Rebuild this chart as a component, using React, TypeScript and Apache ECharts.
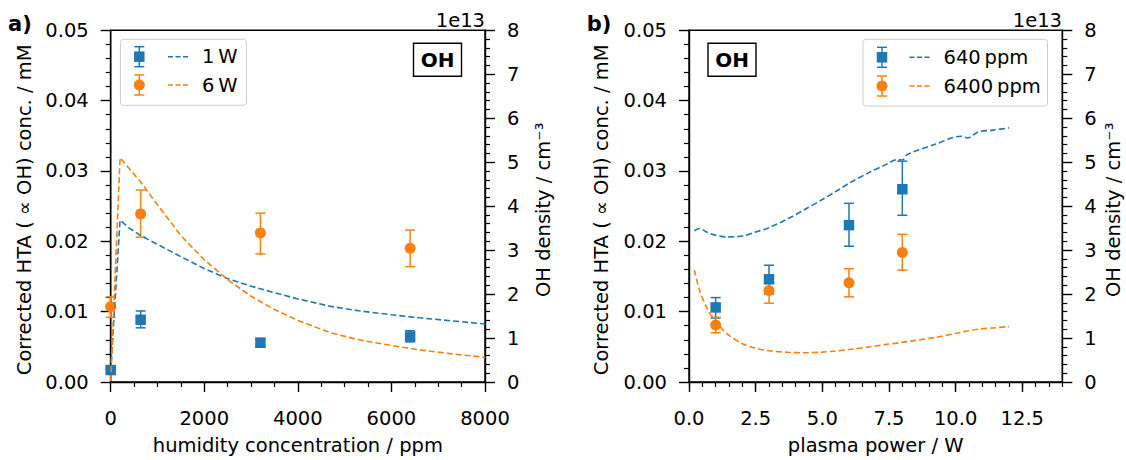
import React, { useEffect, useRef } from "react";
import * as echarts from "echarts";

const FONT = "DejaVu Sans";
const FS = 19.5;
const BLUE = "#1f77b4";
const ORANGE = "#ff7f0e";

// ---- Panel a: humidity series (measured HTA, mM) ----
const humidityPpm = [0, 640, 3200, 6400];
const htaOneW = [0.0017, 0.00885, 0.00558, 0.00647];
const htaOneWLow = [0.0015, 0.0077, 0.005, 0.0057];
const htaOneWHigh = [0.0019, 0.0101, 0.0062, 0.0073];
const htaSixW = [0.0107, 0.0239, 0.0212, 0.019];
const htaSixWLow = [0.0092, 0.0206, 0.0182, 0.0164];
const htaSixWHigh = [0.0121, 0.0273, 0.024, 0.0216];

// ---- Panel a: model OH density (units of 1e13 cm^-3) ----
const modelHumidityPpm = [0, 200, 400, 640, 1000, 1500, 2000, 2500, 3000, 3500, 4000, 4700, 5300, 6000, 6600, 7300, 8000];
const modelOneW = [0.25, 3.68, 3.5, 3.33, 3.13, 2.85, 2.58, 2.35, 2.18, 2.03, 1.89, 1.72, 1.62, 1.53, 1.46, 1.39, 1.32];
const modelSixW = [0.02, 5.1, 4.85, 4.55, 4.03, 3.33, 2.78, 2.33, 1.95, 1.65, 1.4, 1.12, 0.96, 0.83, 0.73, 0.64, 0.56];

// ---- Panel b: plasma power series (measured HTA, mM) ----
const powerW = [1, 3, 6, 8];
const hta640 = [0.0106, 0.0146, 0.0223, 0.0274];
const hta640Low = [0.0091, 0.0125, 0.0193, 0.0237];
const hta640High = [0.012, 0.0166, 0.0254, 0.0314];
const hta6400 = [0.0081, 0.013, 0.0141, 0.0184];
const hta6400Low = [0.007, 0.0112, 0.0121, 0.0159];
const hta6400High = [0.0092, 0.0148, 0.0161, 0.021];

// ---- Panel b: model OH density (units of 1e13 cm^-3) ----
const modelPowerW = [0.2, 0.4, 0.7, 1.0, 1.4, 2.0, 2.5, 3.0, 3.7, 4.3, 5.0, 5.5, 6.0, 6.8, 7.4, 7.8, 8.0, 8.2, 9.2, 10.2, 10.45, 10.85, 11.4, 12.0];
const model640 = [3.44, 3.49, 3.4, 3.34, 3.3, 3.32, 3.41, 3.51, 3.71, 3.91, 4.15, 4.33, 4.52, 4.78, 4.95, 5.06, 5.05, 5.18, 5.4, 5.59, 5.55, 5.69, 5.73, 5.78];
const model6400 = [2.55, 2.08, 1.65, 1.38, 1.11, 0.87, 0.77, 0.71, 0.675, 0.665, 0.68, 0.705, 0.74, 0.8, 0.855, 0.885, 0.905, 0.92, 1.01, 1.13, 1.16, 1.2, 1.23, 1.26];

const panelBTicks = [0, 2.5, 5, 7.5, 10, 12.5];

const zip = (xs: number[], ys: number[]) => xs.map((x, i) => [x, ys[i]]);

const labelStyle = (extra: any = {}) => ({ color: "#000", fontSize: FS, fontFamily: FONT, ...extra });

const axisBase = () => ({
  type: "value" as const,
  axisLine: { show: true, onZero: false, lineStyle: { color: "#000", width: 1.4 } },
  axisTick: { show: true, inside: false, length: 10, lineStyle: { color: "#000", width: 1.4 } },
  minorTick: { show: true, length: 5, lineStyle: { color: "#000", width: 1.2 } },
  splitLine: { show: false },
  minorSplitLine: { show: false },
});

function errorBars(xs: number[], lows: number[], highs: number[], color: string, xi: number, yi: number) {
  return {
    type: "custom",
    xAxisIndex: xi,
    yAxisIndex: yi,
    z: 3,
    encode: { x: 0, y: [1, 2] },
    data: xs.map((x, i) => [x, lows[i], highs[i]]),
    renderItem: (_params: any, api: any) => {
      const x = api.value(0);
      const top = api.coord([x, api.value(2)]);
      const bot = api.coord([x, api.value(1)]);
      const hw = 5;
      const style = { stroke: color, lineWidth: 1.5 };
      return {
        type: "group",
        children: [
          { type: "line", shape: { x1: top[0], y1: top[1], x2: bot[0], y2: bot[1] }, style },
          { type: "line", shape: { x1: top[0] - hw, y1: top[1], x2: top[0] + hw, y2: top[1] }, style },
          { type: "line", shape: { x1: bot[0] - hw, y1: bot[1], x2: bot[0] + hw, y2: bot[1] }, style },
        ],
      };
    },
  };
}

function markers(xs: number[], ys: number[], color: string, symbol: string, xi: number, yi: number) {
  return {
    type: "scatter",
    xAxisIndex: xi,
    yAxisIndex: yi,
    z: 4,
    symbol,
    symbolSize: symbol === "rect" ? 10.5 : 11,
    itemStyle: { color, opacity: 1 },
    data: zip(xs, ys),
  };
}

function modelLine(xs: number[], ys: number[], color: string, xi: number, yi: number, smooth: number | boolean) {
  return {
    type: "line",
    xAxisIndex: xi,
    yAxisIndex: yi,
    z: 5,
    showSymbol: false,
    smooth,
    lineStyle: { color, width: 1.6, type: [6, 3] },
    data: zip(xs, ys),
  };
}

function textEl(x: number, y: number, text: string, opts: any = {}) {
  const align = opts.align || "center";
  const va = opts.va || "middle";
  return {
    type: "text",
    x,
    y,
    rotation: opts.rotation || 0,
    z: 10,
    style: {
      text,
      fontSize: opts.fontSize || FS,
      fontWeight: opts.bold ? "bold" : "normal",
      fontFamily: FONT,
      fill: "#000",
      align,
      verticalAlign: va,
      textAlign: align,
      textVerticalAlign: va,
    },
  };
}

function legendRow(mx: number, my: number, symbol: string, color: string, d1: number, d2: number, tx: number, label: string) {
  const st = { stroke: color, lineWidth: 1.5 };
  return [
    { type: "line", shape: { x1: mx, y1: my - 10, x2: mx, y2: my + 10 }, style: st },
    { type: "line", shape: { x1: mx - 5, y1: my - 10, x2: mx + 5, y2: my - 10 }, style: st },
    { type: "line", shape: { x1: mx - 5, y1: my + 10, x2: mx + 5, y2: my + 10 }, style: st },
    symbol === "rect"
      ? { type: "rect", shape: { x: mx - 5.25, y: my - 5.25, width: 10.5, height: 10.5 }, style: { fill: color } }
      : { type: "circle", shape: { cx: mx, cy: my, r: 5.5 }, style: { fill: color } },
    { type: "line", shape: { x1: d1, y1: my, x2: d2, y2: my }, style: { stroke: color, lineWidth: 1.6, lineDash: [5, 2.5] } },
    textEl(tx, my, label, { align: "left" }),
  ];
}

function ohBox(x: number, y: number) {
  return [
    { type: "rect", z: 9, shape: { x, y, width: 48, height: 33 }, style: { fill: "#fff", stroke: "#000", lineWidth: 1.4 } },
    textEl(x + 24, y + 17, "OH", { bold: true, fontSize: 20 }),
  ];
}

function legendBox(x: number, y: number, w: number, h: number) {
  return { type: "rect", z: 8, shape: { x, y, width: w, height: h, r: 3 }, style: { fill: "rgba(255,255,255,0.8)", stroke: "#cccccc", lineWidth: 1 } };
}

export default function App() {
  const ref = useRef<HTMLDivElement>(null);

  useEffect(() => {
    if (!ref.current) return;
    const chart = echarts.init(ref.current, undefined, { renderer: "svg" });
    const GA = { left: 110.7, top: 30.3, width: 374.3, height: 359 };
    const GB = { left: 689, top: 30.3, width: 373.3, height: 359 };
    const midY = GA.top + GA.height / 2;

    const leftY = (gridIndex: number) => ({
      ...axisBase(),
      gridIndex,
      position: "left",
      min: 0,
      max: 0.05,
      interval: 0.01,
      minorTick: { show: true, splitNumber: 5, length: 5, lineStyle: { color: "#000", width: 1.2 } },
      axisLabel: labelStyle({ margin: 22, formatter: (v: number) => v.toFixed(2) }),
    });
    const rightY = (gridIndex: number) => ({
      ...axisBase(),
      gridIndex,
      position: "right",
      min: 0,
      max: 8,
      interval: 1,
      minorTick: { show: true, splitNumber: 5, length: 5, lineStyle: { color: "#000", width: 1.2 } },
      axisLabel: labelStyle({ margin: 22 }),
    });

    const option: any = {
      animation: false,
      backgroundColor: "#fff",
      textStyle: { fontFamily: FONT },
      grid: [
        { ...GA, show: true, borderColor: "#000", borderWidth: 1.4, backgroundColor: "transparent" },
        { ...GB, show: true, borderColor: "#000", borderWidth: 1.4, backgroundColor: "transparent" },
      ],
      xAxis: [
        {
          ...axisBase(),
          gridIndex: 0,
          min: 0,
          max: 8000,
          interval: 2000,
          minorTick: { show: true, splitNumber: 4, length: 5, lineStyle: { color: "#000", width: 1.2 } },
          axisLabel: labelStyle({ margin: 26, formatter: (v: number) => String(v) }),
          name: "humidity concentration / ppm",
          nameLocation: "middle",
          nameGap: 53,
          nameTextStyle: labelStyle(),
        },
        {
          ...axisBase(),
          gridIndex: 1,
          min: 0,
          max: 14,
          interval: 2.5,
          axisTick: { show: true, length: 10, customValues: panelBTicks, lineStyle: { color: "#000", width: 1.4 } },
          minorTick: { show: false },
          axisLabel: labelStyle({ margin: 26, customValues: panelBTicks, formatter: (v: number) => v.toFixed(1) }),
          name: "plasma power / W",
          nameLocation: "middle",
          nameGap: 53,
          nameTextStyle: labelStyle(),
        },
        {
          type: "value",
          gridIndex: 1,
          position: "bottom",
          min: 0,
          max: 14,
          interval: 0.5,
          axisLine: { show: false, onZero: false },
          axisTick: { show: true, length: 5, lineStyle: { color: "#000", width: 1.2 } },
          axisLabel: { show: false },
          splitLine: { show: false },
        },
      ],
      yAxis: [leftY(0), rightY(0), leftY(1), rightY(1)],
      series: [
        errorBars(humidityPpm, htaOneWLow, htaOneWHigh, BLUE, 0, 0),
        markers(humidityPpm, htaOneW, BLUE, "rect", 0, 0),
        errorBars(humidityPpm, htaSixWLow, htaSixWHigh, ORANGE, 0, 0),
        markers(humidityPpm, htaSixW, ORANGE, "circle", 0, 0),
        modelLine(modelHumidityPpm, modelOneW, BLUE, 0, 1, false),
        modelLine(modelHumidityPpm, modelSixW, ORANGE, 0, 1, false),

        errorBars(powerW, hta640Low, hta640High, BLUE, 1, 2),
        markers(powerW, hta640, BLUE, "rect", 1, 2),
        errorBars(powerW, hta6400Low, hta6400High, ORANGE, 1, 2),
        markers(powerW, hta6400, ORANGE, "circle", 1, 2),
        modelLine(modelPowerW, model640, BLUE, 1, 3, 0.3),
        modelLine(modelPowerW, model6400, ORANGE, 1, 3, 0.3),
      ],
      graphic: [
        textEl(20, 24, "a)", { bold: true, fontSize: 21 }),
        textEl(599, 24, "b)", { bold: true, fontSize: 21 }),
        textEl(485, 20, "1e13", { align: "right" }),
        textEl(1062, 20, "1e13", { align: "right" }),
        textEl(24, midY, "Corrected HTA ( \u221d OH) conc. / mM", { rotation: Math.PI / 2 }),
        textEl(601, midY, "Corrected HTA ( \u221d OH) conc. / mM", { rotation: Math.PI / 2 }),
        textEl(543, midY, "OH density / cm\u207b\u00b3", { rotation: Math.PI / 2 }),
        textEl(1113, midY, "OH density / cm\u207b\u00b3", { rotation: Math.PI / 2 }),
        ...ohBox(413.5, 43.3),
        ...ohBox(708, 43.3),
        legendBox(120.4, 39.3, 126, 66),
        ...legendRow(139.3, 56.7, "rect", BLUE, 168, 188, 202, "1\u2009W"),
        ...legendRow(139.3, 85, "circle", ORANGE, 168, 188, 202, "6\u2009W"),
        legendBox(863, 39.3, 184.5, 66.7),
        ...legendRow(882, 57.3, "rect", BLUE, 909.5, 932, 943.5, "640\u2009ppm"),
        ...legendRow(882, 86, "circle", ORANGE, 909.5, 932, 943.5, "6400\u2009ppm"),
      ].map((g: any) => ({ z: 8, ...g })),
    };

    chart.setOption(option);
    return () => chart.dispose();
  }, []);

  return (
    <div
      ref={ref}
      style={{ position: "absolute", left: 0, top: 0, width: 1126, height: 460, background: "#fff" }}
    />
  );
}
